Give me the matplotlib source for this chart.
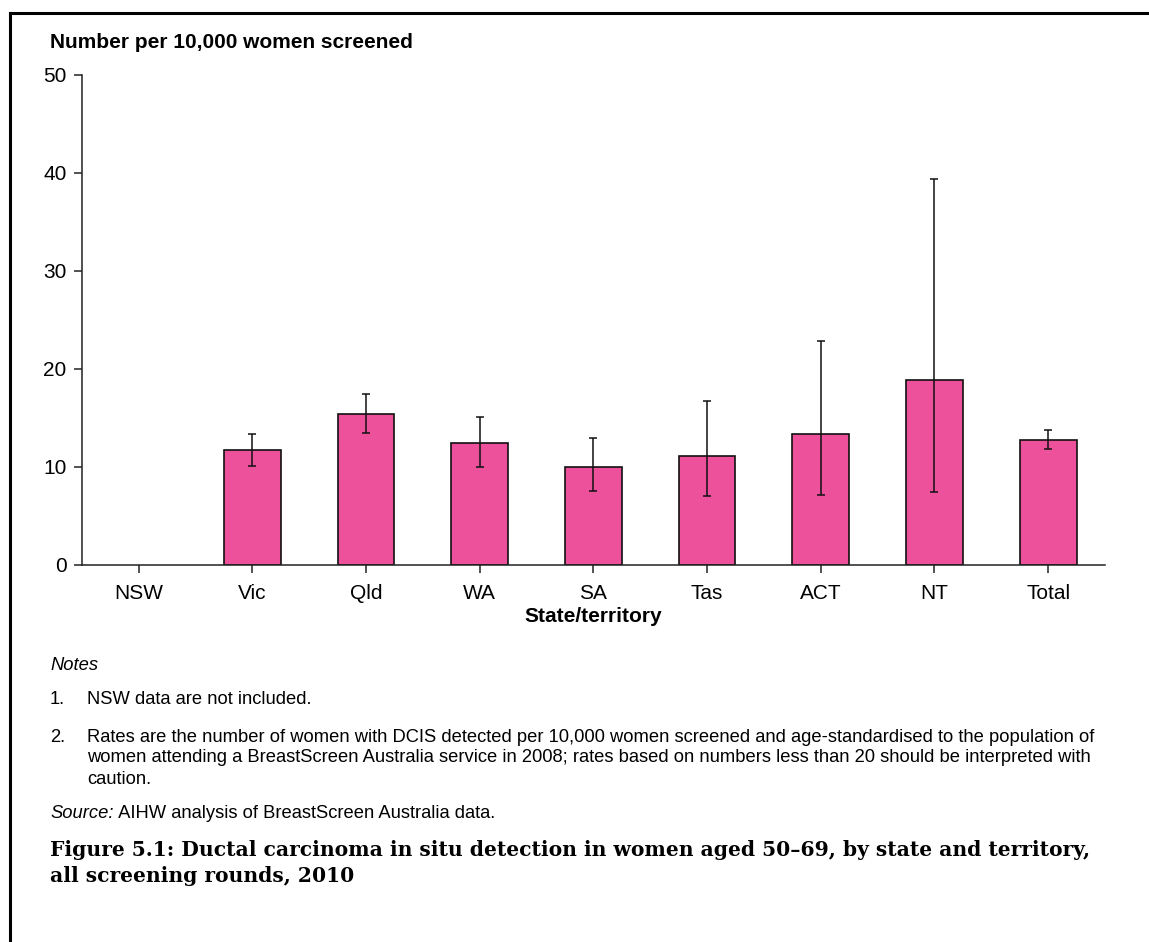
import matplotlib
matplotlib.use("Agg")
import matplotlib.pyplot as plt
from matplotlib.lines import Line2D
import numpy as np

# ---- data ----
categories = ["NSW", "Vic", "Qld", "WA", "SA", "Tas", "ACT", "NT", "Total"]
rates = [np.nan, 11.7, 15.4, 12.4, 10.0, 11.1, 13.4, 18.9, 12.8]
ci_low = [np.nan, 10.1, 13.5, 10.0, 7.6, 7.0, 7.1, 7.4, 11.8]
ci_high = [np.nan, 13.4, 17.5, 15.1, 13.0, 16.7, 22.9, 39.4, 13.8]
y_ticks = [0, 10, 20, 30, 40, 50]

y_title = "Number per 10,000 women screened"
x_title = "State/territory"
notes_head = "Notes"
note_items = [
    ("1.", ["NSW data are not included."]),
    ("2.", ["Rates are the number of women with DCIS detected per 10,000 women screened and age-standardised to the population of",
            "women attending a BreastScreen Australia service in 2008; rates based on numbers less than 20 should be interpreted with",
            "caution."]),
]
source_label = "Source:"
source_text = " AIHW analysis of BreastScreen Australia data."
caption_lines = ["Figure 5.1: Ductal carcinoma in situ detection in women aged 50\u201369, by state and territory,",
                 "all screening rounds, 2010"]

W, H = 1149, 942
DPI = 100
fig = plt.figure(figsize=(W / DPI, H / DPI), dpi=DPI)
sans = "Liberation Sans"
serif = "DejaVu Serif"

def fx(px):
    return px / W

def fy(py):
    return 1 - py / H

fig.canvas.draw()
renderer = fig.canvas.get_renderer()

def fit_size(text, target_px, **kw):
    t = fig.text(0, 0, text, fontsize=10, **kw)
    w = t.get_window_extent(renderer=renderer).width
    t.remove()
    return 10 * target_px / w

ax = fig.add_axes([fx(81.7), fy(565), fx(1105) - fx(81.7), fy(75) - fy(565)])
x = np.arange(len(categories))
vals = np.array(rates, dtype=float)
lo = np.array(ci_low, dtype=float)
hi = np.array(ci_high, dtype=float)
mask = ~np.isnan(vals)
ax.bar(x[mask], vals[mask], width=0.5, color="#ED519B", edgecolor="#111111",
       linewidth=1.2, zorder=2)
ax.errorbar(x[mask], vals[mask], yerr=[vals[mask] - lo[mask], hi[mask] - vals[mask]],
            fmt="none", ecolor="#111111", elinewidth=1.1, capsize=3.2, capthick=1.1, zorder=3)

ax.set_xlim(-0.5, len(categories) - 0.5)
ax.set_ylim(0, 50)
ax.set_yticks(y_ticks)
ax.set_xticks(x)
ax.set_xticklabels(categories)
for s in ["top", "right"]:
    ax.spines[s].set_visible(False)
for s in ["left", "bottom"]:
    ax.spines[s].set_linewidth(1.1)
    ax.spines[s].set_color("#222222")
ax.tick_params(axis="both", direction="out", length=6, width=1.1, color="#222222",
               labelsize=15)
ax.tick_params(axis="y", pad=5)
ax.tick_params(axis="x", pad=8)
for lab in ax.get_xticklabels() + ax.get_yticklabels():
    lab.set_fontfamily(sans)

fig.text(fx(50), fy(42), y_title, fontsize=15, fontweight="bold", family=sans,
         ha="left", va="center")
fig.text(fx(593), fy(617), x_title, fontsize=15, fontweight="bold", family=sans,
         ha="center", va="center")

note_fs = fit_size(note_items[1][1][0], 1095 - 87, family=sans)
fig.text(fx(50), fy(666), notes_head, fontsize=note_fs, style="italic", family=sans,
         ha="left", va="center")
item_y = [700, 737]
line_gap = 21
for (num, lines), yy in zip(note_items, item_y):
    fig.text(fx(50), fy(yy), num, fontsize=note_fs, family=sans, ha="left", va="center")
    for i, ln in enumerate(lines):
        fig.text(fx(87), fy(yy + i * line_gap), ln, fontsize=note_fs, family=sans,
                 ha="left", va="center")

src_y = 814
t1 = fig.text(fx(50), fy(src_y), source_label, fontsize=note_fs, style="italic", family=sans,
              ha="left", va="center")
bb = t1.get_window_extent(renderer=renderer)
fig.text(bb.x1 / W, fy(src_y), source_text, fontsize=note_fs, family=sans,
         ha="left", va="center")

cap_fs = fit_size(caption_lines[0], 1090 - 50, fontweight="bold", family=serif)
for i, ln in enumerate(caption_lines):
    fig.text(fx(50), fy(850 + i * 26), ln, fontsize=cap_fs, fontweight="bold",
             family=serif, ha="left", va="center")

# frame lines
fig.add_artist(Line2D([fx(10), 1], [fy(13), fy(13)], color="black", linewidth=2.2,
                      transform=fig.transFigure))
fig.add_artist(Line2D([fx(10), fx(10)], [fy(13), 0], color="black", linewidth=2.2,
                      transform=fig.transFigure))

fig.savefig("out.png", dpi=DPI)
